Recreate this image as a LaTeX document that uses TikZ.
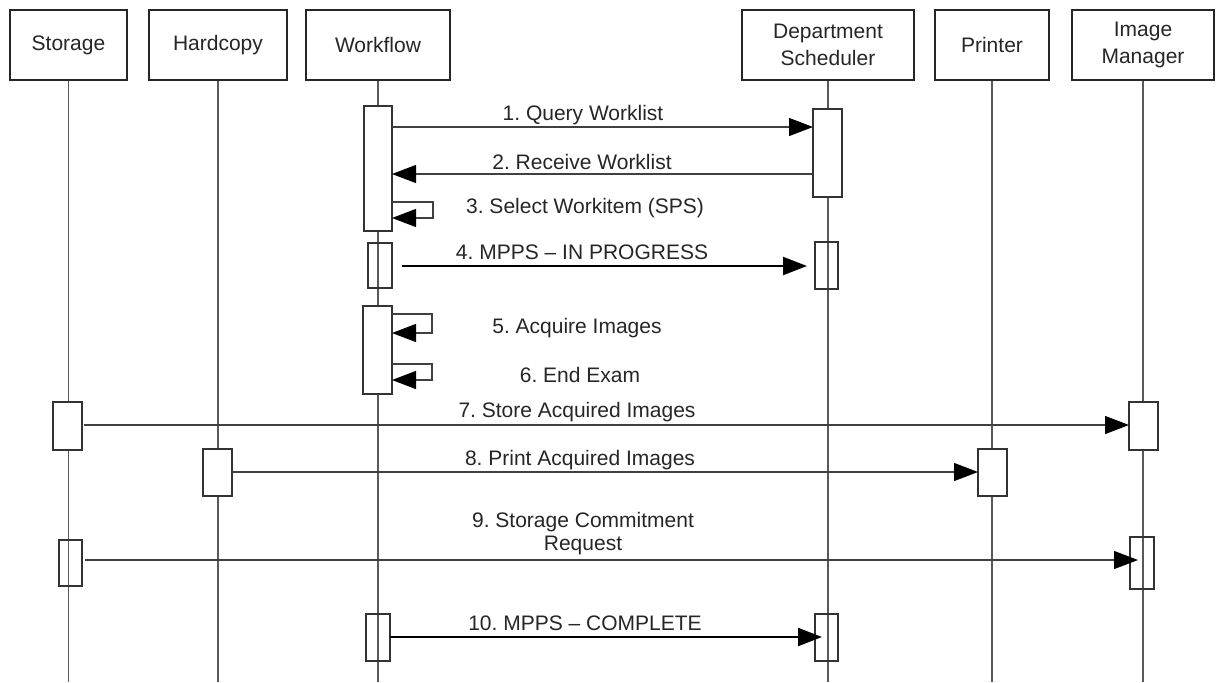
\documentclass[tikz,border=0pt]{standalone}
\usepackage{fontspec}
\setmainfont{Liberation Sans}
\usetikzlibrary{arrows.meta}
\frenchspacing

\begin{document}
\begin{tikzpicture}[x=0.5pt,y=-0.5pt,
  every node/.style={font=\fontsize{10.5}{11.5}\selectfont},
  head/.style={draw=black!85,line width=0.6pt,minimum height=35pt,inner sep=0pt,align=center,font=\fontsize{10.5}{13.5}\selectfont,text=black!85},
  life/.style={black!65,line width=0.6pt},
  act/.style={draw=black!80,line width=0.6pt,inner sep=0pt,outer sep=0pt},
  msg/.style={black!75,line width=0.6pt,-{Triangle[length=12pt,width=9pt,color=black]}},
  bmsg/.style={black,line width=1.1pt,-{Triangle[length=12pt,width=9pt]}},
  lbl/.style={text=black!85}]

  \useasboundingbox (0,0) rectangle (1222,682);
  \fill[white] (0,0) rectangle (1222,682);
  \coordinate (bottom) at (0,682);

  \foreach \n/\x/\w/\t in {storage/68.5/58.5/Storage,hardcopy/218/69/Hardcopy,workflow/378/72/Workflow,dept/828/86/{Department\\Scheduler},printer/992/57/Printer,imgmgr/1143/71/{Image\\Manager}}{
  \node[head,minimum width=\w pt] (\n) at (\x,45) {\t};
  \draw[life] (\n.south) -- (\n.south |- bottom);
  }

  \foreach \n/\a/\b/\c/\d/\f in {W1/364/106/392/231/white,W2/368/243/392/288/none,W3/363/306/392/394/white,W4/366/614/390/661/none,D1/813/109/842/197/white,D2/815/242/838/289/none,D3/815/614/838/661/none,S1/53/402/82/450/white,S2/59/540/82/586/none,H1/203/449/232/496/white,P1/978/449/1007/496/white,I1/1129/402/1158/450/white,I2/1130/537/1154/589/none}{
  \node[act,fill=\f,minimum width={(\c-\a)*0.5pt},minimum height={(\d-\b)*0.5pt}] (\n) at ({(\a+\c)/2},{(\b+\d)/2}) {};
  }

  \foreach \r/\y in {r1/127,r2/174,r3/202,r3b/218,r4/266,r5/314,r5b/333,r6/364,r6b/380,r7/425,r8/472,r9/560,r10/637}{
  \coordinate (\r) at (0,\y);
  }

  \draw[msg] (W1.east |- r1) -- (D1.west |- r1);
  \draw[msg] (D1.west |- r2) -- (W1.east |- r2);
  \draw[msg] (W1.east |- r3) -- ++(41,0) |- (W1.east |- r3b);
  \draw[bmsg,shorten <=5pt,shorten >=4pt] (W2.east |- r4) -- (D2.west |- r4);
  \draw[msg] (W3.east |- r5) -- ++(40,0) |- (W3.east |- r5b);
  \draw[msg] (W3.east |- r6) -- ++(40,0) |- (W3.east |- r6b);
  \draw[msg,shorten <=1pt] (S1.east |- r7) -- (I1.west |- r7);
  \draw[msg] (H1.east |- r8) -- (P1.west |- r8);
  \draw[msg,shorten <=1.5pt,shorten >=-4pt] (S2.east |- r9) -- (I2.west |- r9);
  \draw[bmsg,shorten >=-3.5pt] (W4.east |- r10) -- (D3.west |- r10);

  \node[lbl] (l1) at (583,115) {1. Query Worklist};
  \node[lbl] (l2) at (582,162) {2. Receive Worklist};
  \node[lbl] (l3) at (585,208) {3. Select Workitem (SPS)};
  \node[lbl] (l4) at (582,252) {4. MPPS -- IN PROGRESS};
  \node[lbl] (l5) at (577,328) {5. Acquire Images};
  \node[lbl] (l6) at (580,375) {6. End Exam};
  \node[lbl] (l7) at (577,412) {7. Store Acquired Images};
  \node[lbl] (l8) at (580,460) {8. Print Acquired Images};
  \node[lbl,align=center] (l9) at (583,534) {9. Storage Commitment\\Request};
  \node[lbl] (l10) at (585,623) {10. MPPS -- COMPLETE};
\end{tikzpicture}
\end{document}
